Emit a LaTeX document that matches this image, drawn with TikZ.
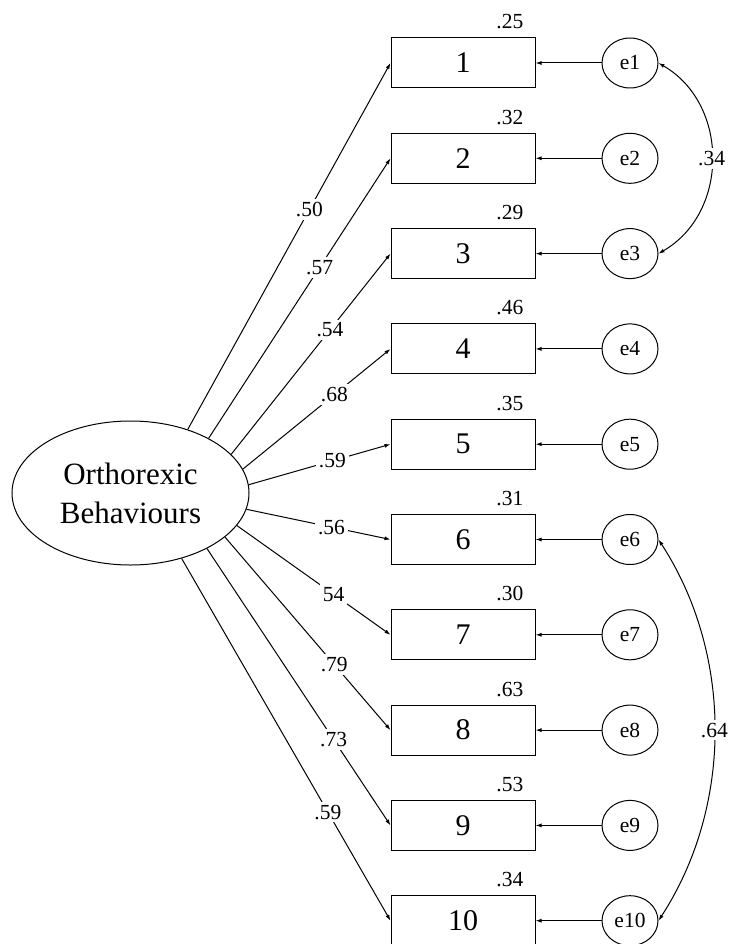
\documentclass[tikz,border=0pt]{standalone}
\usepackage{fontspec}
\setmainfont{Liberation Serif}
\usetikzlibrary{shapes.geometric,arrows.meta,positioning}

\begin{document}
\begin{tikzpicture}[x=1pt, y=-1pt,
    obs/.style={draw, line width=1pt, minimum width=144pt, minimum height=50pt,
      inner sep=0pt, font=\fontsize{30}{36}\selectfont},
    err/.style={draw, ellipse, line width=1pt, minimum width=56pt, minimum height=50pt,
      inner sep=0pt, font=\fontsize{21.5}{26}\selectfont},
    lat/.style={draw, ellipse, line width=1pt, minimum width=237pt, minimum height=144pt,
      inner sep=0pt, align=center, font=\fontsize{31}{39}\selectfont},
    coef/.style={fill=white, inner sep=3pt, font=\fontsize{21.5}{26}\selectfont},
    rsq/.style={anchor=south east, inner sep=0pt, font=\fontsize{21.5}{26}\selectfont},
    load/.style={line width=1pt, -{Latex[length=6pt,width=4pt]}},
    cov/.style={line width=1pt, {Latex[length=6pt,width=4pt]}-{Latex[length=6pt,width=4pt]}}
  ]
  \useasboundingbox (0,0) rectangle (731,944);

  % latent factor
  \node[lat] (OB) at (130.5,493) {Orthorexic\\Behaviours};

  % items, errors and squared multiple correlations
  \foreach \i/\r in {1/.25, 2/.32, 3/.29, 4/.46, 5/.35, 6/.31, 7/.30, 8/.63, 9/.53, 10/.34} {
    \node[obs] (b\i) at (463,{63+(\i-1)*95.3}) {\i};
    \node[err] (e\i) at (630,{63+(\i-1)*95.3}) {e\i};
    \node[rsq] (r\i) at ([xshift=-12pt,yshift=8pt]b\i.north east) {\r};
    \draw[load] (e\i) -- (b\i);
  }

  % loadings
  \foreach \i/\a/\p/\c in {1/48/0.60/.50, 2/35/0.61/.57, 3/21/0.62/.54, 4/12/0.62/.68,
      5/4/0.59/.59, 6/352/0.59/.56, 7/343/0.63/54, 8/335/0.66/.79, 9/324/0.69/.73, 10/308/0.70/.59} {
    \draw[load] (OB.\a) -- (b\i.west) node[coef, pos=\p] (c\i) {\c};
  }

  % correlated errors
  \draw[cov] (e1.east) to[out=-30, in=30, looseness=1.1] node[coef] (k1) {.34} (e3.east);
  \draw[cov] (e6.east) to[out=-57, in=57, looseness=0.92] node[coef] (k2) {.64} (e10.east);
\end{tikzpicture}
\end{document}
